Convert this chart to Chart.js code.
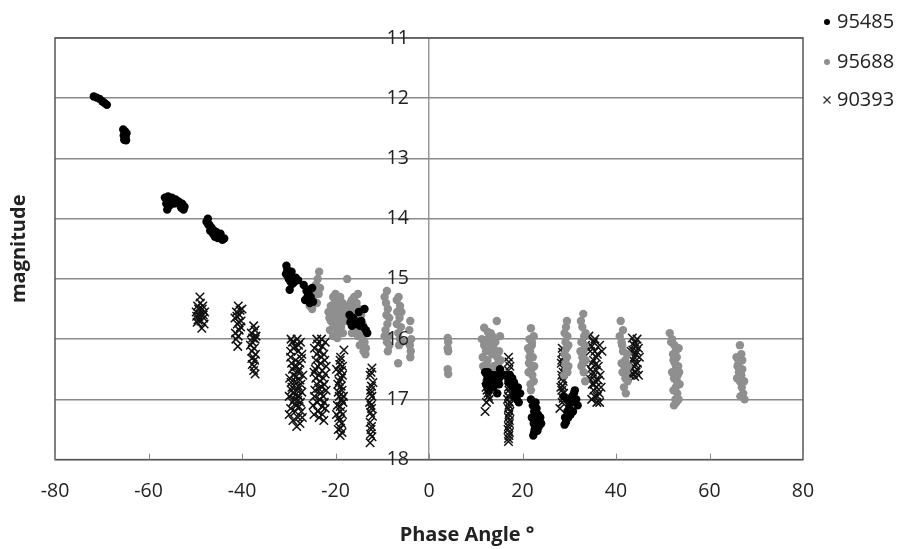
<!DOCTYPE html>
<html>
<head>
<meta charset="utf-8">
<script src="https://cdn.jsdelivr.net/npm/chart.js@4"></script>
<style>
  body { margin: 0; background: #fff; }
  #wrap { width: 902px; height: 549px; }
</style>
</head>
<body>
<div id="wrap"><canvas id="chart" width="902" height="549"></canvas></div>
<script>
// axis ticks
const xTicks = [-80, -60, -40, -20, 0, 20, 40, 60, 80];
const yTicks = [11, 12, 13, 14, 15, 16, 17, 18];

// series names
const seriesNames = ["95485", "95688", "90393"];

// 95485 - [phase angle, magnitude]
const pts95485 = [
  [-71.7,11.97],[-71.1,11.99],[-70.5,12.01],[-69.9,12.05],[-69.4,12.08],[-68.9,12.11],
  [-65.4,12.52],[-65.0,12.55],[-64.7,12.58],[-65.3,12.62],[-64.9,12.65],[-65.2,12.69],[-64.8,12.70],[-65.0,12.63],
  [-56.5,13.65],[-55.8,13.63],[-55.0,13.65],[-54.2,13.68],[-53.5,13.72],[-52.8,13.75],[-52.3,13.80],[-53.0,13.82],
  [-56.2,13.75],[-56.0,13.85],[-55.5,13.78],[-54.5,13.75],[-52.5,13.85],
  [-55.2,13.72],[-54.0,13.72],[-53.2,13.78],[-55.8,13.70],
  [-47.6,14.05],[-47.0,14.10],[-46.5,14.15],[-46.0,14.20],[-45.5,14.22],[-45.0,14.27],[-44.4,14.32],[-43.8,14.33],
  [-46.8,14.20],[-45.8,14.30],[-47.3,14.00],[-44.6,14.25],
  [-47.2,14.10],[-46.2,14.25],[-45.2,14.32],[-44.2,14.35],
  [-30.5,14.78],[-30.3,14.85],[-29.8,14.90],[-29.5,14.95],[-29.0,15.00],[-28.5,14.98],[-28.0,15.02],[-30.0,15.00],
  [-29.2,15.08],[-29.8,15.18],[-30.6,14.92],
  [-29.6,15.05],[-28.8,15.05],[-30.2,14.95],[-29.4,14.88],
  [-26.8,15.10],[-26.2,15.20],[-25.8,15.25],[-25.3,15.30],[-26.5,15.35],[-25.0,15.15],[-24.8,15.38],
  [-25.6,15.18],[-26.0,15.30],[-25.5,15.40],
  [-17.0,15.60],[-16.2,15.65],[-15.5,15.75],[-14.5,15.70],[-14.0,15.80],[-13.5,15.85],[-15.0,15.55],[-13.8,15.50],
  [-16.5,15.78],[-13.2,15.90],[-15.8,15.70],[-14.8,15.78],[-16.8,15.72],
  [12.0,16.55],[12.5,16.65],[13.0,16.70],[13.5,16.60],[14.0,16.70],[14.5,16.65],[15.0,16.75],[15.5,16.60],
  [12.8,16.85],[13.8,16.80],[14.6,16.90],[12.2,16.75],[15.2,16.50],
  [13.2,16.78],[14.2,16.60],[12.6,16.55],[15.0,16.65],
  [16.5,16.60],[17.0,16.70],[17.5,16.75],[18.0,16.80],[18.5,16.85],[19.0,16.80],[19.5,16.90],[18.8,17.00],
  [19.2,17.05],[17.8,16.65],[18.3,16.95],[18.2,16.72],[17.3,16.60],[18.6,16.92],
  [21.8,17.00],[22.2,17.10],[22.5,17.20],[22.0,17.30],[22.8,17.35],[23.3,17.25],[23.8,17.30],[23.5,17.45],
  [22.6,17.50],[22.3,17.60],[24.0,17.40],[23.0,17.15],[22.4,17.40],
  [22.8,17.05],[23.5,17.35],[22.9,17.45],[22.5,17.55],[23.2,17.52],[22.7,17.28],
  [31.0,16.90],[31.5,17.00],[30.5,17.05],[31.8,17.10],[30.0,17.15],[30.8,17.20],[29.8,17.30],[29.3,17.38],
  [29.0,17.42],[30.3,17.25],[31.2,16.85],[28.8,16.95],[29.5,17.00],
  [30.6,16.95],[30.0,17.05],[29.6,17.20],[29.1,17.30]
];

// 95688
const pts95688 = [
  [-23.5,14.88],[-23.8,15.00],[-24.2,15.10],[-23.3,15.15],[-24.5,15.20],[-24.8,15.30],[-25.2,15.35],[-25.5,15.45],
  [-25.0,15.50],[-23.6,15.25],[-24.0,15.40],
  [-20.5,15.30],[-20.0,15.25],[-19.5,15.35],[-19.0,15.30],[-18.5,15.40],[-21.0,15.45],[-21.5,15.55],[-20.8,15.60],
  [-20.2,15.50],[-19.8,15.65],[-19.2,15.55],[-18.7,15.60],[-18.2,15.50],[-17.5,15.55],[-17.0,15.45],[-16.5,15.35],
  [-16.0,15.30],[-15.5,15.40],[-15.0,15.50],[-14.5,15.60],[-14.2,15.75],[-14.0,15.90],[-13.8,16.05],[-13.5,16.15],
  [-20.0,15.80],[-19.5,15.90],[-21.2,15.85],[-18.8,15.80],[-17.8,15.70],[-15.8,15.65],[-16.5,15.90],[-15.2,15.95],
  [-14.8,16.10],[-17.5,15.00],[-20.5,15.95],
  [-21.0,15.70],[-20.5,15.75],[-19.8,15.45],[-19.2,15.75],[-18.5,15.70],[-18.0,15.62],[-17.2,15.62],[-16.8,15.55],
  [-16.2,15.50],[-15.6,15.55],[-15.0,15.70],[-14.5,15.85],[-14.2,16.00],[-15.5,15.85],[-20.2,15.40],[-21.3,15.65],
  [-19.0,15.45],[-16.0,15.75],[-15.2,15.25],[-14.0,16.20],[-13.6,16.25],[-16.8,15.40],[-18.4,15.90],[-19.6,15.98],
  [-9.0,15.20],[-9.2,15.40],[-8.8,15.50],[-9.1,15.60],[-8.9,15.75],[-9.3,15.85],[-8.7,15.95],[-9.0,16.05],[-8.8,16.20],
  [-9.5,15.30],[-8.5,15.65],[-9.5,15.95],[-8.5,16.10],
  [-6.5,15.30],[-6.2,15.45],[-6.8,15.55],[-6.3,15.65],[-6.0,15.80],[-6.6,15.90],[-6.2,16.00],[-6.4,16.10],[-6.6,16.40],
  [-6.9,15.35],[-5.9,15.55],[-6.9,15.75],[-5.8,16.05],
  [-4.0,15.70],[-4.2,15.85],[-3.8,16.00],[-4.1,16.10],[-3.9,16.20],[-4.0,16.30],
  [4.0,15.98],[4.1,16.05],[4.0,16.15],[4.1,16.20],[4.0,16.50],[4.1,16.58],
  [11.8,15.81],[14.5,15.70],[12.5,16.00],[13.5,15.95],[11.8,16.10],[12.8,16.15],[14.2,16.05],[15.0,16.20],
  [11.5,16.30],[12.5,16.35],[13.5,16.25],[14.8,16.40],[12.2,16.45],[13.2,16.50],[14.4,16.55],[15.2,15.95],
  [11.3,16.00],[12.2,16.20],[13.0,16.05],[13.8,16.15],[14.6,16.30],[15.3,16.35],[11.6,16.45],[13.8,16.45],
  [12.6,15.88],[13.2,15.90],
  [21.8,15.82],[21.5,16.00],[22.0,16.10],[21.6,16.20],[22.2,16.30],[21.4,16.40],[21.9,16.50],[22.1,16.60],
  [21.7,16.75],[22.0,16.05],[21.5,16.30],[22.4,15.95],[21.2,16.15],[22.5,16.45],[21.3,16.55],[22.4,16.70],[21.8,16.85],
  [29.5,15.70],[29.3,15.80],[29.6,15.95],[29.2,16.05],[29.4,16.15],[29.5,16.30],[29.2,16.40],[29.4,16.50],[29.6,16.55],
  [29.0,15.90],[29.8,16.10],[29.0,16.25],[29.8,16.45],[28.9,16.60],
  [33.0,15.58],[32.8,15.80],[33.2,15.95],[32.6,16.05],[33.0,16.20],[32.8,16.30],[33.3,16.10],[32.9,16.40],
  [33.5,15.90],[32.4,16.20],[33.5,16.35],[32.6,16.45],[33.1,16.55],[33.4,16.70],[32.5,15.70],
  [41.0,15.70],[40.8,15.95],[41.2,16.05],[41.5,16.20],[42.0,16.35],[41.8,16.45],[42.2,16.55],[42.0,16.65],
  [41.7,16.80],[42.1,16.90],[41.3,16.10],[41.5,15.85],[42.4,16.25],[41.2,16.40],[42.5,16.70],[41.4,16.55],[42.6,16.45],
  [51.5,15.90],[52.0,16.00],[52.5,16.10],[52.8,16.20],[53.0,16.30],[52.6,16.40],[52.8,16.50],[53.2,16.60],
  [53.0,16.70],[52.8,16.80],[53.1,16.90],[52.7,17.00],[52.4,17.10],[52.2,16.25],[53.3,16.45],
  [51.8,16.05],[53.4,16.15],[52.3,16.35],[53.5,16.55],[52.4,16.65],[53.6,16.75],[52.3,16.85],[53.4,17.00],
  [52.9,17.05],[52.0,16.55],
  [66.5,16.10],[66.8,16.25],[67.0,16.35],[66.0,16.45],[66.3,16.55],[66.8,16.60],[66.5,16.70],[66.9,16.80],
  [67.2,16.90],[67.5,17.00],[65.8,16.30],[67.0,16.50],[65.9,16.65],[67.4,16.70],[66.6,16.95],[66.2,16.40]
];

// 90393
const pts90393 = [
  [-49.0,15.30],[-49.5,15.45],[-48.5,15.50],[-49.8,15.55],[-48.3,15.60],[-49.2,15.62],[-48.8,15.70],[-49.6,15.72],
  [-48.2,15.65],[-48.6,15.82],[-49.3,15.50],[-48.0,15.55],
  [-49.0,15.58],[-48.4,15.45],[-49.4,15.68],[-48.9,15.40],[-48.1,15.75],[-49.7,15.62],
  [-40.8,15.45],[-41.2,15.55],[-40.5,15.60],[-40.2,15.70],[-41.0,15.75],[-40.6,15.85],[-41.3,16.00],[-40.9,16.12],
  [-40.0,15.50],[-41.5,15.65],
  [-40.4,15.52],[-41.1,15.62],[-40.7,15.72],[-40.3,15.80],[-41.4,15.90],[-40.8,15.95],
  [-37.5,15.78],[-38.0,15.90],[-37.2,16.00],[-37.8,16.05],[-37.4,16.15],[-37.9,16.20],[-37.6,16.30],[-37.3,16.35],
  [-37.8,16.42],[-37.5,16.52],[-38.2,16.10],[-37.0,15.95],
  [-37.2,15.85],[-37.7,15.98],[-37.1,16.25],[-37.9,16.32],[-37.4,16.45],[-37.2,16.58],
  [-29.5,16.00],[-28.2,16.00],[-27.5,16.05],[-29.0,16.15],[-28.0,16.20],[-27.2,16.25],[-29.6,16.30],[-28.5,16.35],
  [-27.6,16.40],[-29.2,16.50],[-28.0,16.55],[-27.0,16.60],[-29.8,16.65],[-28.6,16.70],[-27.4,16.75],[-29.3,16.80],
  [-28.2,16.85],[-27.8,16.95],[-29.9,16.95],[-28.8,17.00],[-27.5,17.05],[-29.6,17.15],[-28.4,17.10],[-27.3,17.20],
  [-28.0,17.30],[-27.6,17.40],[-29.4,16.85],[-28.8,16.45],
  [-29.2,16.05],[-27.9,16.10],[-28.7,16.12],[-27.3,16.32],[-29.4,16.40],[-28.3,16.45],[-27.8,16.50],[-29.0,16.60],
  [-28.4,16.62],[-27.6,16.68],[-29.5,16.72],[-28.0,16.78],[-29.0,16.90],[-28.5,16.92],[-27.2,16.88],[-29.2,17.05],
  [-28.1,17.02],[-27.8,17.12],[-29.9,17.25],[-28.6,17.20],[-27.1,17.30],[-29.6,16.20],[-28.3,17.45],[-29.1,17.35],
  [-24.0,16.00],[-23.0,16.00],[-22.2,16.05],[-24.5,16.15],[-23.5,16.20],[-22.5,16.25],[-24.2,16.35],[-23.2,16.40],
  [-22.0,16.45],[-24.6,16.55],[-23.6,16.60],[-22.6,16.65],[-24.0,16.75],[-22.9,16.80],[-22.0,16.85],[-24.5,16.95],
  [-23.4,17.00],[-22.4,17.05],[-24.8,17.10],[-23.8,17.20],[-22.8,17.25],[-22.5,17.35],[-23.2,16.90],[-24.3,16.50],
  [-23.8,16.08],[-22.8,16.12],[-24.0,16.25],[-23.0,16.30],[-22.3,16.35],[-23.8,16.45],[-22.8,16.52],[-22.2,16.58],
  [-24.2,16.65],[-23.3,16.70],[-22.4,16.75],[-23.6,16.82],[-24.4,16.85],[-22.6,16.95],[-23.9,17.05],[-22.9,17.12],
  [-23.5,17.30],[-24.6,17.25],[-22.2,17.15],
  [-18.2,16.18],[-19.0,16.35],[-18.5,16.45],[-19.3,16.55],[-18.8,16.65],[-19.5,16.75],[-18.6,16.85],[-19.2,16.95],
  [-18.4,17.05],[-19.6,17.10],[-18.9,17.20],[-19.3,17.30],[-18.7,17.40],[-19.4,17.50],[-19.0,17.60],[-18.5,16.60],
  [-19.8,16.50],[-18.3,16.95],[-19.8,17.25],
  [-18.9,16.30],[-19.1,16.42],[-18.7,16.52],[-19.2,16.70],[-18.8,16.78],[-19.4,16.88],[-18.7,17.00],[-19.0,17.12],
  [-18.5,17.25],[-19.1,17.35],[-18.9,17.48],[-18.6,17.55],
  [-12.2,16.48],[-12.6,16.60],[-12.0,16.72],[-12.5,16.85],[-12.2,16.95],[-12.7,17.05],[-12.3,17.15],[-12.1,17.28],
  [-12.6,17.38],[-12.4,17.50],[-12.2,17.62],[-12.6,17.72],
  [-12.4,16.55],[-12.3,16.78],[-12.5,16.90],[-12.4,17.10],[-12.5,17.22],[-12.3,17.45],[-12.5,17.58],
  [12.5,16.55],[12.8,16.70],[12.2,16.80],[12.6,16.90],[12.9,17.00],[12.3,17.05],[12.7,16.60],[12.0,17.20],
  [12.4,16.62],[12.6,16.75],[12.4,16.85],[12.7,16.95],
  [17.0,16.30],[17.3,16.45],[16.9,16.60],[17.2,16.70],[17.0,16.80],[17.4,16.90],[16.8,17.00],[17.1,17.10],
  [17.3,17.20],[17.0,17.30],[17.2,17.40],[16.9,17.50],[17.1,17.60],[17.0,17.70],
  [17.1,16.38],[17.0,16.52],[17.2,16.65],[17.1,16.85],[17.0,16.95],[17.2,17.05],[17.0,17.15],[17.1,17.25],
  [17.2,17.35],[17.0,17.45],[17.2,17.55],[17.0,17.65],
  [28.5,16.15],[28.8,16.30],[28.3,16.40],[28.9,16.50],[28.4,16.60],[28.7,16.70],[28.2,16.80],[28.8,16.90],
  [28.5,17.05],[28.0,17.15],[29.0,16.45],
  [28.6,16.22],[28.4,16.35],[28.7,16.55],[28.5,16.65],[28.6,16.78],[28.4,16.85],[28.7,16.98],
  [34.2,15.95],[35.5,16.00],[36.5,16.10],[34.5,16.20],[35.8,16.30],[34.8,16.40],[36.2,16.45],[35.0,16.55],
  [36.6,16.60],[34.3,16.65],[35.6,16.70],[36.8,16.80],[35.2,16.85],[36.0,16.95],[34.8,17.00],[36.5,17.05],
  [33.5,16.10],[37.0,16.20],
  [35.2,16.05],[34.8,16.12],[35.5,16.20],[36.0,16.25],[35.2,16.35],[35.6,16.42],[34.6,16.50],[35.8,16.52],
  [35.2,16.62],[36.2,16.68],[34.9,16.75],[35.8,16.80],[36.4,16.90],[35.4,16.95],[35.9,17.05],[35.3,16.75],
  [43.5,15.98],[44.5,16.00],[43.8,16.10],[44.8,16.15],[43.2,16.20],[44.2,16.25],[45.0,16.30],[43.6,16.35],
  [44.6,16.40],[43.4,16.50],[44.3,16.55],[43.0,16.60],[44.8,16.60],
  [44.0,16.05],[44.2,16.12],[43.6,16.18],[44.4,16.20],[43.9,16.30],[44.1,16.42],[43.8,16.45],[44.5,16.50],
  [43.7,16.58],[44.0,16.62]
];

const FONT = "'Open Sans', 'Liberation Sans', sans-serif";
const toXY = pts => pts.map(p => ({ x: p[0], y: p[1] }));

// frame, inward x ticks, axis titles and legend
const extras = {
  id: "extras",
  beforeDatasetsDraw(chart) {
    const { ctx, chartArea: a, scales: { x } } = chart;
    ctx.save();
    ctx.strokeStyle = "#555";
    ctx.lineWidth = 1.5;
    ctx.strokeRect(a.left, a.top, a.right - a.left, a.bottom - a.top);
    ctx.strokeStyle = "#888";
    ctx.lineWidth = 1;
    xTicks.forEach(v => {
      const px = Math.round(x.getPixelForValue(v)) + 0.5;
      ctx.beginPath();
      ctx.moveTo(px, a.bottom);
      ctx.lineTo(px, a.bottom - 6);
      ctx.stroke();
    });
    ctx.restore();
  },
  afterDraw(chart) {
    const { ctx, chartArea: a } = chart;
    ctx.save();
    ctx.font = "bold 20px " + FONT;
    ctx.fillStyle = "#222";
    ctx.textAlign = "center";
    ctx.textBaseline = "middle";
    // x title
    ctx.fillText("Phase Angle °", 467, 535);
    // y title
    ctx.translate(19, (a.top + a.bottom) / 2);
    ctx.rotate(-Math.PI / 2);
    ctx.fillText("magnitude", 0, 0);
    ctx.restore();

    // legend
    ctx.save();
    ctx.font = "20px " + FONT;
    ctx.textBaseline = "middle";
    ctx.textAlign = "left";
    const rows = [22, 62, 100];
    chart.data.datasets.forEach((ds, i) => {
      const y = rows[i], mx = 827;
      if (ds.pointStyle === "crossRot") {
        ctx.strokeStyle = "#333";
        ctx.lineWidth = 1.3;
        ctx.beginPath();
        ctx.moveTo(mx - 3.5, y - 3.5); ctx.lineTo(mx + 3.5, y + 3.5);
        ctx.moveTo(mx + 3.5, y - 3.5); ctx.lineTo(mx - 3.5, y + 3.5);
        ctx.stroke();
      } else {
        ctx.fillStyle = ds.backgroundColor;
        ctx.beginPath();
        ctx.arc(mx, y, 3, 0, Math.PI * 2);
        ctx.fill();
      }
      ctx.fillStyle = "#222";
      ctx.fillText(ds.label, 837, y);
    });
    ctx.restore();
  }
};

new Chart(document.getElementById("chart"), {
  type: "scatter",
  data: {
    datasets: [
      {
        label: seriesNames[0],
        data: toXY(pts95485),
        pointStyle: "circle",
        pointRadius: 4.2,
        backgroundColor: "#000",
        borderColor: "#000",
        borderWidth: 0
      },
      {
        label: seriesNames[1],
        data: toXY(pts95688),
        pointStyle: "circle",
        pointRadius: 4.2,
        backgroundColor: "#8f8f8f",
        borderColor: "#8f8f8f",
        borderWidth: 0
      },
      {
        label: seriesNames[2],
        data: toXY(pts90393),
        pointStyle: "crossRot",
        pointRadius: 6,
        backgroundColor: "#111",
        borderColor: "#111",
        borderWidth: 1.5
      }
    ]
  },
  options: {
    responsive: false,
    animation: false,
    devicePixelRatio: 1,
    layout: { padding: { left: 55, top: 38, right: 99, bottom: 26 } },
    plugins: {
      legend: { display: false },
      tooltip: { enabled: false }
    },
    scales: {
      x: {
        type: "linear",
        min: xTicks[0],
        max: xTicks[xTicks.length - 1],
        ticks: {
          stepSize: 20,
          padding: 20,
          color: "#222",
          font: { family: FONT, size: 19.5 }
        },
        // only the zero line is drawn: it is the vertical axis
        grid: {
          drawTicks: false,
          lineWidth: 1.5,
          color: c => (c.tick && c.tick.value === 0 ? "#999" : "rgba(0,0,0,0)")
        },
        border: { display: false }
      },
      y: {
        type: "linear",
        position: { x: -4.3 },
        reverse: true,
        min: yTicks[0],
        max: yTicks[yTicks.length - 1],
        ticks: {
          stepSize: 1,
          padding: 0,
          z: 1,
          color: "#222",
          font: { family: FONT, size: 19.5 }
        },
        grid: { color: "#8a8a8a", lineWidth: 1.5, drawTicks: false },
        border: { display: false }
      }
    }
  },
  plugins: [extras]
});
</script>
</body>
</html>
